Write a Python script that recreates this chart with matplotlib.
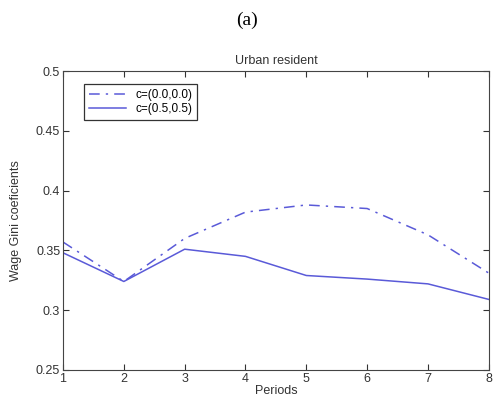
import matplotlib
matplotlib.use("Agg")
import matplotlib.pyplot as plt

plt.rcParams["font.family"] = ["Liberation Sans", "DejaVu Sans"]

periods = [1, 2, 3, 4, 5, 6, 7, 8]
c00 = [0.357, 0.324, 0.360, 0.382, 0.388, 0.385, 0.363, 0.331]
c55 = [0.348, 0.324, 0.351, 0.345, 0.329, 0.326, 0.322, 0.309]
labels = ["c=(0.0,0.0)", "c=(0.5,0.5)"]

color = "#5a5ad8"
fig = plt.figure(figsize=(4.94, 3.98), dpi=100)
ax = fig.add_axes([0.1275, 0.0704, 0.862, 0.7512])
ax.plot(periods, c00, linestyle=(0, (7, 4, 1.5, 4)), color=color, lw=1.1, label=labels[0])
ax.plot(periods, c55, linestyle="-", color=color, lw=1.1, label=labels[1])
ax.set_xlim(1, 8)
ax.set_ylim(0.25, 0.5)
ax.set_xticks(periods)
ax.set_yticks([0.25, 0.3, 0.35, 0.4, 0.45, 0.5])
ax.set_yticklabels(["0.25", "0.3", "0.35", "0.4", "0.45", "0.5"])
ax.tick_params(direction="in", length=4, labelsize=9, colors="#333333", top=True, right=True, labeltop=False, labelright=False, pad=2)
for s in ax.spines.values():
    s.set_color("#444444")
ax.set_title("Urban resident", fontsize=9, color="#333333", pad=5)
ax.set_xlabel("Periods", fontsize=9, color="#333333", labelpad=0)
ax.set_ylabel("Wage Gini coeficients", fontsize=9, color="#333333", labelpad=10)
leg = ax.legend(loc="upper left", bbox_to_anchor=(0.035, 0.975), fontsize=8.5, fancybox=False, edgecolor="#333333", framealpha=1, handlelength=3.2, borderpad=0.4, labelspacing=0.2)
leg.get_frame().set_linewidth(0.9)
fig.text(0.5, 0.948, "(a)", ha="center", va="center", fontsize=14, family=["Liberation Serif", "DejaVu Serif"])
fig.savefig("out.png", dpi=100)
